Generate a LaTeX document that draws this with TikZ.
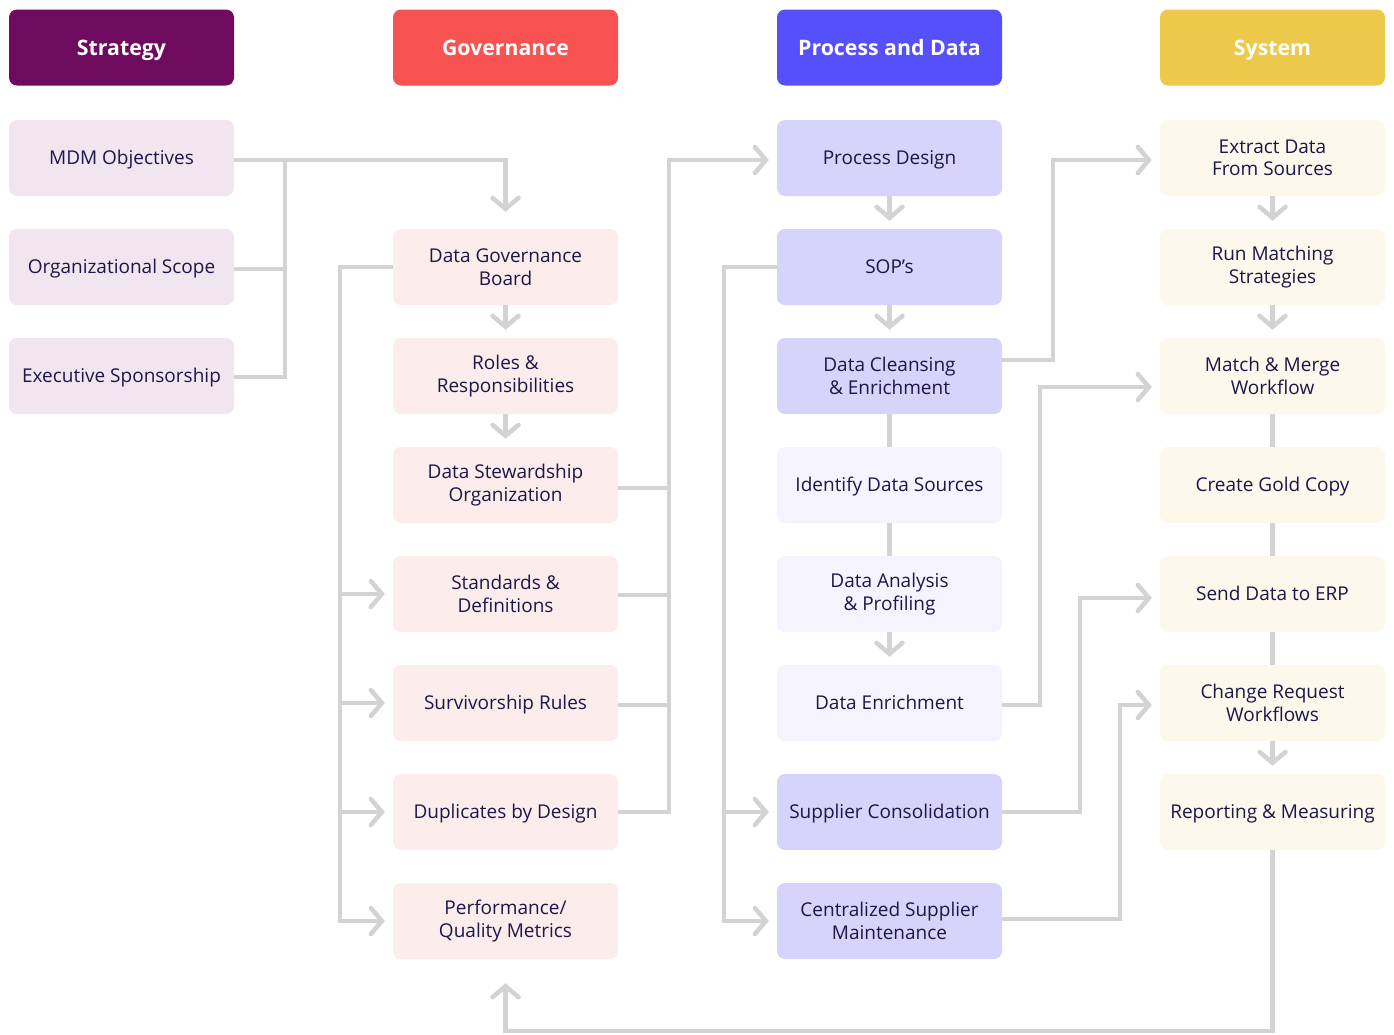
\documentclass[tikz,border=0pt]{standalone}
\usepackage{fontspec}
\setmainfont{Open Sans}
\usetikzlibrary{arrows.meta,calc}
\definecolor{navy}{HTML}{1B1748}
\definecolor{strH}{HTML}{6E0B5F}
\definecolor{strB}{HTML}{F1E6F0}
\definecolor{govH}{HTML}{F85252}
\definecolor{govB}{HTML}{FDECEC}
\definecolor{proH}{HTML}{5550FB}
\definecolor{proB}{HTML}{D6D4FA}
\definecolor{proL}{HTML}{F4F3FE}
\definecolor{sysH}{HTML}{ECC94B}
\definecolor{sysB}{HTML}{FCF8EB}
\definecolor{conn}{HTML}{D3D3D3}
\tikzset{
  box/.style={rounded corners=8pt, minimum width=225pt, minimum height=76pt, align=center, inner sep=0pt, text=navy, font=\fontsize{19}{22.5}\selectfont},
  one/.style={text height=13.6pt, text depth=0pt},
  head/.style={box, text=white, font=\fontsize{21.3}{24}\selectfont\bfseries, text height=15.2pt, text depth=0pt},
  line/.style={draw=conn, line width=4.5pt},
  arr/.style={line, -{Straight Barb[length=11pt,width=26pt,line cap=round]}, shorten >=8pt},
}
\begin{document}
\begin{tikzpicture}[x=1pt,y=-1pt]
\useasboundingbox[fill=white] (0,0) rectangle (1394,1034);
% headers
\node[head, fill=strH] (hs) at (121.5,47.5) {Strategy};
\node[head, fill=govH] (hg) at (505.5,47.5) {Governance};
\node[head, fill=proH] (hp) at (889.5,47.5) {Process and Data};
\node[head, fill=sysH] (hy) at (1272.5,47.5) {System};
% strategy
\node[box, one, fill=strB] (mdm) at (121.5,158) {MDM Objectives};
\node[box, one, fill=strB] (org) at (121.5,267) {Organizational Scope};
\node[box, one, fill=strB] (exe) at (121.5,376) {Executive Sponsorship};
% governance
\node[box, fill=govB] (dgb) at (505.5,267) {Data Governance\\Board};
\node[box, fill=govB] (rol) at (505.5,376) {Roles \&\\Responsibilities};
\node[box, fill=govB] (dso) at (505.5,485) {Data Stewardship\\Organization};
\node[box, fill=govB] (std) at (505.5,594) {Standards \&\\Definitions};
\node[box, one, fill=govB] (sur) at (505.5,703) {Survivorship Rules};
\node[box, one, fill=govB] (dup) at (505.5,812) {Duplicates by Design};
\node[box, fill=govB] (per) at (505.5,921) {Performance/\\Quality Metrics};
% process
\node[box, one, fill=proB] (pd) at (889.5,158) {Process Design};
\node[box, one, fill=proB] (sop) at (889.5,267) {SOP’s};
\node[box, fill=proB] (dc) at (889.5,376) {Data Cleansing\\\& Enrichment};
\node[box, one, fill=proL] (ids) at (889.5,485) {Identify Data Sources};
\node[box, fill=proL] (dap) at (889.5,594) {Data Analysis\\\& Profiling};
\node[box, one, fill=proL] (den) at (889.5,703) {Data Enrichment};
\node[box, one, fill=proB] (sc) at (889.5,812) {Supplier Consolidation};
\node[box, fill=proB] (csm) at (889.5,921) {Centralized Supplier\\Maintenance};
% system
\node[box, fill=sysB] (ext) at (1272.5,158) {Extract Data\\From Sources};
\node[box, fill=sysB] (rms) at (1272.5,267) {Run Matching\\Strategies};
\node[box, fill=sysB] (mm) at (1272.5,376) {Match \& Merge\\Workflow};
\node[box, one, fill=sysB] (gold) at (1272.5,485) {Create Gold Copy};
\node[box, one, fill=sysB] (erp) at (1272.5,594) {Send Data to ERP};
\node[box, fill=sysB] (crw) at (1272.5,703) {Change Request\\Workflows};
\node[box, one, fill=sysB] (rep) at (1272.5,812) {Reporting \& Measuring};
% coordinates
\coordinate (sj) at (285,160);
\coordinate (gl) at (340,267);
\coordinate (gr) at (669,160);
\coordinate (pl) at (724,267);
\coordinate (c1) at (1053,160);
\coordinate (c2) at (1040,387);
\coordinate (c3) at (1080,598);
\coordinate (c4) at (1120,705);
\coordinate (bb) at (1272.5,1031);
% strategy connectors
\draw[arr, shorten >=17pt] ([yshift=-2pt]mdm.east) -| (dgb.north);
\draw[line] ([yshift=-2pt]org.east) -| (sj);
\draw[line] ([yshift=-1pt]exe.east) -| (sj);
% governance vertical
\draw[arr] (dgb) -- (rol);
\draw[arr] (rol) -- (dso);
\draw[arr] (dgb.west) -- (gl) |- (per.west);
\draw[arr] (gl |- std.west) -- (std.west);
\draw[arr] (gl |- sur.west) -- (sur.west);
\draw[arr] (gl |- dup.west) -- (dup.west);
% governance right bus
\draw[arr] (dup.east) -| (gr) -- ([yshift=-2pt]pd.west);
\draw[line] ([yshift=-3pt]dso.east) -- ++(52,0);
\draw[line] ([yshift=-1pt]std.east) -- ++(52,0);
\draw[line] ([yshift=-2pt]sur.east) -- ++(52,0);
% process vertical
\draw[arr] (pd) -- (sop);
\draw[arr] (sop) -- (dc);
\draw[line] (dc.south) -- (ids.north);
\draw[line] (ids.south) -- (dap.north);
\draw[arr] (dap) -- (den);
\draw[arr] (sop.west) -- (pl) |- (csm.west);
\draw[arr] (pl |- sc.west) -- (sc.west);
% process to system
\draw[arr] ([yshift=16pt]dc.east) -| (c1) -- (c1 -| ext.west);
\draw[arr] ([yshift=-2pt]den.east) -| (c2) -- (c2 -| mm.west);
\draw[arr] (sc.east) -| (c3) -- (c3 -| erp.west);
\draw[arr] ([yshift=2pt]csm.east) -| (c4) -- (c4 -| crw.west);
% system vertical
\draw[arr] (ext) -- (rms);
\draw[arr] (rms) -- (mm);
\draw[line] (mm.south) -- (gold.north);
\draw[line] (gold.south) -- (erp.north);
\draw[line] (erp.south) -- (crw.north);
\draw[arr] (crw) -- (rep);
\draw[arr, shorten >=24pt] (rep.south) -- (bb) -| (per.south);
\end{tikzpicture}
\end{document}
